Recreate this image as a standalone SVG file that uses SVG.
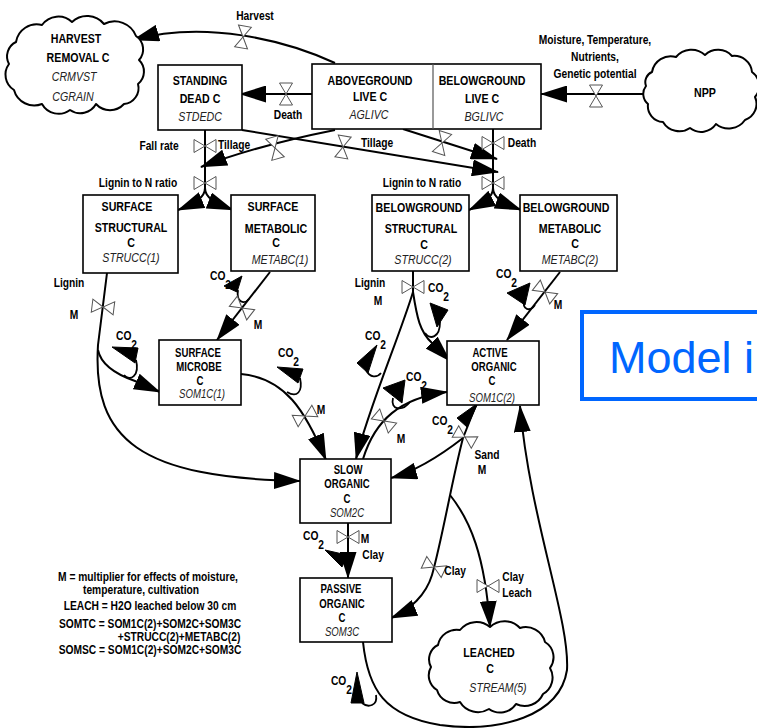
<svg xmlns="http://www.w3.org/2000/svg" xmlns:xlink="http://www.w3.org/1999/xlink" width="757" height="728" viewBox="0 0 757 728">
<defs>
<style>
.t{font-family:"Liberation Sans",Arial,sans-serif;font-weight:bold;font-size:13.3px;text-anchor:middle;fill:#000;transform-box:fill-box;transform-origin:center;transform:scaleX(0.8)}
.i{font-style:italic;font-weight:normal;fill:#222}
.sm{font-size:12px}
.s{font-size:12.8px}
.co{font-size:12.8px;text-anchor:start;transform-origin:left center}
.lg{font-size:12.8px}
.box{fill:#fff;stroke:#000;stroke-width:1.6}
.cloud{fill:#fff;stroke:#000;stroke-width:2;stroke-linejoin:round}
.ln{fill:none;stroke:#000;stroke-width:2}
.lp{fill:none;stroke:#000;stroke-width:1.8}
.hd{fill:#000;stroke:#000;stroke-width:1;stroke-linejoin:round}
.vv{fill:#fff;stroke:#555;stroke-width:1}
</style>
<marker id="arr" viewBox="0 0 27 17" refX="26" refY="8.5" markerWidth="27" markerHeight="17" markerUnits="userSpaceOnUse" orient="auto">
<path d="M0,0 L27,8.5 L0,17 z" fill="#000"/>
</marker>
<g id="valve">
<polygon class="vv" points="-6.5,-11 6.5,-11 0,0"/>
<polygon class="vv" points="-6.5,11 6.5,11 0,0"/>
</g>
</defs>
<rect width="757" height="728" fill="#fff"/>

<!-- flows between pools -->
<g id="connectors">
<path class="ln" marker-end="url(#arr)" d="M335,63 C285,40 205,20 133,40"/>
<path class="ln" marker-end="url(#arr)" d="M312,94 L240,94"/>
<path class="ln" marker-end="url(#arr)" d="M645,94 L541,94"/>
<path class="ln" d="M205,130 L205,190"/>
<path class="ln" marker-end="url(#arr)" d="M205,188 C205,198 195,203 178,210"/>
<path class="ln" marker-end="url(#arr)" d="M205,188 C205,198 215,203 233,210"/>
<path class="ln" d="M493,129 L493,190"/>
<path class="ln" marker-end="url(#arr)" d="M493,188 C493,198 483,203 469,210"/>
<path class="ln" marker-end="url(#arr)" d="M493,188 C493,198 503,203 521,210"/>
<path class="ln" marker-end="url(#arr)" d="M335,130 C295,138 245,150 201,167"/>
<path class="ln" marker-end="url(#arr)" d="M242,130 L498,172"/>
<path class="ln" marker-end="url(#arr)" d="M403,129 L497,159"/>
<path class="ln" marker-end="url(#arr)" d="M107,273 L98,345 C92,440 140,478 300,481"/>
<path class="ln" marker-end="url(#arr)" d="M98,350 C101,365 115,374 135,381 L160,392"/>
<path class="ln" marker-end="url(#arr)" d="M270,272 L217,340"/>
<path class="ln" marker-end="url(#arr)" d="M241,374 C285,378 305,410 326,460"/>
<path class="ln" d="M413,271 L413,292"/>
<path class="ln" marker-end="url(#arr)" d="M413,292 C400,335 368,410 356,459"/>
<path class="ln" marker-end="url(#arr)" d="M413,292 C417,318 420,332 432,343 L450,361"/>
<path class="ln" marker-end="url(#arr)" d="M560,272 L507,340"/>
<path class="ln" marker-end="url(#arr)" d="M363,459 C375,420 400,398 447,392"/>
<path class="ln" d="M476,405 L463,438"/>
<path class="ln" marker-end="url(#arr)" d="M463,438 C445,452 420,470 391,478"/>
<path class="ln" marker-end="url(#arr)" d="M463,438 C452,480 442,540 432,575 C426,595 410,610 391,618"/>
<path class="ln" marker-end="url(#arr)" d="M450,495 C470,520 485,555 490,627"/>
<path class="ln" marker-end="url(#arr)" d="M348,523 L348,578"/>
<path class="ln" marker-end="url(#arr)" d="M363,642 C368,690 385,716 440,725 C500,733 560,716 567,670 C570,620 530,520 520,406"/>

<!-- respiration (CO2) hooks -->
<path class="lp" d="M249,299 C244,305 236,302 238,290"/>
<polygon class="hd" points="224,286 242,276 237,292"/>
<path class="lp" d="M124,375 C130,382 140,376 136,360"/>
<polygon class="hd" points="112,347 138,348 135,363"/>
<path class="lp" d="M287,392 C297,398 303,392 300,378"/>
<polygon class="hd" points="277,367 303,369 298,383"/>
<path class="lp" d="M425,333 C430,340 440,338 440,322"/>
<polygon class="hd" points="430,303 448,310 437,327"/>
<path class="lp" d="M535,305 C530,312 522,310 524,300"/>
<polygon class="hd" points="507,293 530,283 525,305"/>
<path class="lp" d="M381,373 C377,378 370,378 366,370"/>
<polygon class="hd" points="377,345 357,363 368,373"/>
<path class="lp" d="M410,402 C402,412 390,410 393,398"/>
<polygon class="hd" points="383,388 405,380 402,403"/>
<polygon class="hd" points="478,403 457,418 467,427"/>
<polygon class="hd" points="325,550 347,555 342,567"/>
<path class="lp" d="M376,695 C378,706 368,708 362,703"/>
<polygon class="hd" points="357,672 351,703 364,703"/>

<!-- flow valves -->
<use xlink:href="#valve" transform="translate(243,37) rotate(10)"/>
<use xlink:href="#valve" transform="translate(286,94)"/>
<use xlink:href="#valve" transform="translate(596,96)"/>
<use xlink:href="#valve" transform="translate(205,146) rotate(90)"/>
<use xlink:href="#valve" transform="translate(205,183) rotate(90)"/>
<use xlink:href="#valve" transform="translate(275,148) rotate(-16)"/>
<use xlink:href="#valve" transform="translate(343,147) rotate(9)"/>
<use xlink:href="#valve" transform="translate(442,143) rotate(18)"/>
<use xlink:href="#valve" transform="translate(493,143) rotate(90)"/>
<use xlink:href="#valve" transform="translate(493,183) rotate(90)"/>
<use xlink:href="#valve" transform="translate(103,307) rotate(97)"/>
<use xlink:href="#valve" transform="translate(242,308) rotate(128)"/>
<use xlink:href="#valve" transform="translate(413,287) rotate(90)"/>
<use xlink:href="#valve" transform="translate(545,292) rotate(128)"/>
<use xlink:href="#valve" transform="translate(305,416) rotate(63)"/>
<use xlink:href="#valve" transform="translate(384,421) rotate(-50)"/>
<use xlink:href="#valve" transform="translate(465,437) rotate(120)"/>
<use xlink:href="#valve" transform="translate(348,537) rotate(90)"/>
<use xlink:href="#valve" transform="translate(434,567) rotate(115)"/>
<use xlink:href="#valve" transform="translate(488,586) rotate(90)"/>
</g>

<!-- flow labels -->
<g id="flow-labels">
<text class="t s" x="255" y="20">Harvest</text>
<text class="t s" x="595" y="44">Moisture, Temperature,</text>
<text class="t s" x="595" y="61">Nutrients,</text>
<text class="t s" x="595" y="78">Genetic potential</text>
<text class="t s" x="288" y="119">Death</text>
<text class="t s" x="159" y="150">Fall rate</text>
<text class="t s" x="234" y="149">Tillage</text>
<text class="t s" x="377" y="147">Tillage</text>
<text class="t s" x="522" y="147">Death</text>
<text class="t s" x="138" y="187">Lignin to N ratio</text>
<text class="t s" x="422" y="187">Lignin to N ratio</text>
<text class="t s" x="69" y="287">Lignin</text>
<text class="t s" x="74" y="319">M</text>
<text class="t s" x="370" y="287">Lignin</text>
<text class="t s" x="378" y="305">M</text>
<text class="t s" x="258" y="329">M</text>
<text class="t s" x="558" y="309">M</text>
<text class="t s" x="321" y="414">M</text>
<text class="t s" x="401" y="443">M</text>
<text class="t s" x="487" y="459">Sand</text>
<text class="t s" x="482" y="474">M</text>
<text class="t s" x="365" y="543">M</text>
<text class="t s" x="373" y="559">Clay</text>
<text class="t s" x="455" y="575">Clay</text>
<text class="t s" x="513" y="581">Clay</text>
<text class="t s" x="517" y="597">Leach</text>
<text class="t co" x="210" y="280">CO<tspan dy="9">2</tspan></text>
<text class="t co" x="116" y="340">CO<tspan dy="9">2</tspan></text>
<text class="t co" x="278" y="357">CO<tspan dy="9">2</tspan></text>
<text class="t co" x="428" y="292">CO<tspan dy="9">2</tspan></text>
<text class="t co" x="496" y="278">CO<tspan dy="9">2</tspan></text>
<text class="t co" x="365" y="340">CO<tspan dy="9">2</tspan></text>
<text class="t co" x="406" y="381">CO<tspan dy="9">2</tspan></text>
<text class="t co" x="432" y="425">CO<tspan dy="9">2</tspan></text>
<text class="t co" x="303" y="540">CO<tspan dy="9">2</tspan></text>
<text class="t co" x="331" y="685">CO<tspan dy="9">2</tspan></text>
</g>

<g id="node-harvest">
<path class="cloud" d="M16,42 A21,21 0 0 1 42,25 A20,20 0 0 1 72,22 A22,22 0 0 1 104,24 A23,23 0 0 1 136,36 A16,16 0 0 1 139,60 A16,16 0 0 1 138,84 A16,16 0 0 1 124,104 A19,19 0 0 1 96,104 A18,18 0 0 1 70,110 A19,19 0 0 1 42,104 A21,21 0 0 1 14,90 A18,18 0 0 1 9,64 A16,16 0 0 1 16,42 Z"/>
<text class="t" x="76" y="43">HARVEST</text>
<text class="t" x="78" y="62">REMOVAL C</text>
<text class="t i" x="74" y="81">CRMVST</text>
<text class="t i" x="73" y="101">CGRAIN</text>
</g>

<g id="node-npp">
<path class="cloud" d="M652,72 A19,19 0 0 1 676,57 A20,20 0 0 1 705,55 A19,19 0 0 1 732,56 A18,18 0 0 1 752,72 A17,17 0 0 1 755,97 A17,17 0 0 1 745,120 A20,20 0 0 1 716,124 A18,18 0 0 1 690,128 A19,19 0 0 1 663,122 A16,16 0 0 1 648,104 A13,13 0 0 1 646,86 A11,11 0 0 1 652,72 Z"/>
<text class="t" x="705" y="97">NPP</text>
</g>

<g id="node-standing-dead">
<rect class="box" x="158" y="65" width="84" height="65"/>
<text class="t" x="200" y="85">STANDING</text>
<text class="t" x="200" y="103">DEAD C</text>
<text class="t i" x="200" y="121">STDEDC</text>
</g>

<g id="node-live">
<rect class="box" x="312" y="64" width="229" height="65"/>
<line x1="433" y1="64" x2="433" y2="129" stroke="#555" stroke-width="1.2"/>
<text class="t" x="370" y="85">ABOVEGROUND</text>
<text class="t" x="370" y="101">LIVE C</text>
<text class="t i" x="369" y="119">AGLIVC</text>
<text class="t" x="482" y="85">BELOWGROUND</text>
<text class="t" x="482" y="103">LIVE C</text>
<text class="t i" x="484" y="121">BGLIVC</text>
</g>

<g id="node-surface-structural">
<rect class="box" x="83" y="195" width="95" height="78"/>
<text class="t" x="127" y="211">SURFACE</text>
<text class="t" x="131" y="232">STRUCTURAL</text>
<text class="t" x="131" y="247">C</text>
<text class="t i" x="131" y="262">STRUCC(1)</text>
</g>

<g id="node-surface-metabolic">
<rect class="box" x="231" y="195" width="84" height="76"/>
<text class="t" x="273" y="211">SURFACE</text>
<text class="t" x="276" y="233">METABOLIC</text>
<text class="t" x="276" y="247">C</text>
<text class="t i" x="280" y="264">METABC(1)</text>
</g>

<g id="node-belowground-structural">
<rect class="box" x="372" y="195" width="97" height="76"/>
<text class="t" x="419" y="212">BELOWGROUND</text>
<text class="t" x="421" y="233">STRUCTURAL</text>
<text class="t" x="424" y="249">C</text>
<text class="t i" x="423" y="264">STRUCC(2)</text>
</g>

<g id="node-belowground-metabolic">
<rect class="box" x="520" y="195" width="97" height="76"/>
<text class="t" x="566" y="212">BELOWGROUND</text>
<text class="t" x="570" y="233">METABOLIC</text>
<text class="t" x="575" y="248">C</text>
<text class="t i" x="570" y="264">METABC(2)</text>
</g>

<g id="node-surface-microbe">
<rect class="box" x="159" y="340" width="82" height="65"/>
<text class="t sm" x="198" y="357">SURFACE</text>
<text class="t sm" x="199" y="371">MICROBE</text>
<text class="t sm" x="200" y="385">C</text>
<text class="t sm i" x="202" y="398">SOM1C(1)</text>
</g>

<g id="node-active">
<rect class="box" x="447" y="341" width="92" height="64"/>
<text class="t sm" x="490" y="357">ACTIVE</text>
<text class="t sm" x="494" y="371">ORGANIC</text>
<text class="t sm" x="492" y="385">C</text>
<text class="t sm i" x="492" y="402">SOM1C(2)</text>
</g>

<g id="node-slow">
<rect class="box" x="300" y="459" width="91" height="64"/>
<text class="t sm" x="348" y="474">SLOW</text>
<text class="t sm" x="347" y="488">ORGANIC</text>
<text class="t sm" x="347" y="503">C</text>
<text class="t sm i" x="347" y="517">SOM2C</text>
</g>

<g id="node-passive">
<rect class="box" x="300" y="578" width="92" height="64"/>
<text class="t sm" x="341" y="593">PASSIVE</text>
<text class="t sm" x="342" y="608">ORGANIC</text>
<text class="t sm" x="342" y="622">C</text>
<text class="t sm i" x="342" y="636">SOM3C</text>
</g>

<g id="node-leached">
<path class="cloud" d="M438,645 A19,19 0 0 1 460,630 A21,21 0 0 1 490,627 A21,21 0 0 1 520,628 A20,20 0 0 1 545,642 A18,18 0 0 1 550,668 A19,19 0 0 1 543,694 A20,20 0 0 1 516,704 A19,19 0 0 1 489,709 A21,21 0 0 1 460,702 A18,18 0 0 1 437,690 A17,17 0 0 1 431,667 A16,16 0 0 1 438,645 Z"/>
<text class="t" x="489" y="657">LEACHED</text>
<text class="t" x="490" y="673">C</text>
<text class="t i" x="498" y="692">STREAM(5)</text>
</g>

<g id="legend">
<text class="t lg" x="148" y="581">M = multiplier for effects of moisture,</text>
<text class="t lg" x="141" y="594">temperature, cultivation</text>
<text class="t lg" x="150" y="610">LEACH = H2O leached below 30 cm</text>
<text class="t lg" x="150" y="628">SOMTC = SOM1C(2)+SOM2C+SOM3C</text>
<text class="t lg" x="179" y="641">+STRUCC(2)+METABC(2)</text>
<text class="t lg" x="150" y="654">SOMSC = SOM1C(2)+SOM2C+SOM3C</text>
</g>

<g id="model-box">
<rect x="582" y="312" width="200" height="87" fill="#fff" stroke="#0066ff" stroke-width="4"/>
<text x="609" y="373" font-family="Liberation Sans, Arial, sans-serif" font-size="45" fill="#0066ff">Model i</text>
</g>
</svg>
